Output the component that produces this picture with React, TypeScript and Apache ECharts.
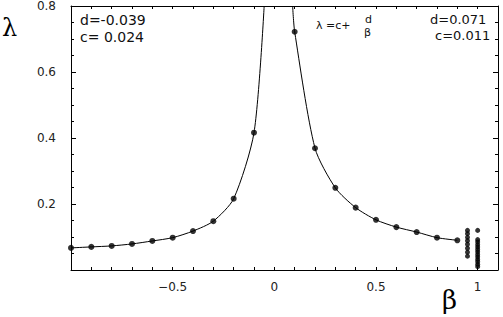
import React, { useEffect, useRef } from "react";
import * as echarts from "echarts";

const betaLeft = [-1, -0.9, -0.8, -0.7, -0.6, -0.5, -0.4, -0.3, -0.2, -0.1];
const lambdaLeft = [0.067, 0.070, 0.073, 0.079, 0.088, 0.098, 0.118, 0.148, 0.216, 0.416];
const betaRight = [0.1, 0.2, 0.3, 0.4, 0.5, 0.6, 0.7, 0.8, 0.9];
const lambdaRight = [0.722, 0.369, 0.249, 0.189, 0.152, 0.130, 0.115, 0.098, 0.090];
// Vertical clusters near beta = 0.95 and beta = 1
const betaCluster1 = 0.95;
const lambdaCluster1 = [0.120, 0.110, 0.099, 0.089, 0.078, 0.066, 0.054, 0.042];
const betaCluster2 = 1.0;
const lambdaCluster2 = [0.120, 0.092, 0.085, 0.077, 0.070, 0.062, 0.055, 0.047, 0.040, 0.032, 0.025, 0.017, 0.010];
// Where the fitted curve leaves the top of the frame
const leftExit: [number, number] = [-0.05, 0.8];
const rightExit: [number, number] = [0.09, 0.8];

// Axis ranges / tick labels
const xMin = -1, xMax = 1.1, xStep = 0.1;
const xLabels = [-0.5, 0, 0.5, 1];
const yMin = 0, yMax = 0.8, yStep = 0.2;
const yLabels = [0.2, 0.4, 0.6, 0.8];

// Fit parameters shown in the chart
const leftFit = { d: "-0.039", c: "0.024" };
const rightFit = { d: "0.071", c: "0.011" };

const App: React.FC = () => {
  const ref = useRef<HTMLDivElement>(null);
  useEffect(() => {
    if (!ref.current) return;
    const chart = echarts.init(ref.current, undefined, { renderer: "svg" });
    const pts = (bs: number[], ls: number[]) => bs.map((b, i) => [b, ls[i]]);
    const leftCurve = [...pts(betaLeft, lambdaLeft), leftExit];
    const rightCurve = [rightExit, ...pts(betaRight, lambdaRight)];
    const scatterData = [
      ...pts(betaLeft, lambdaLeft),
      ...pts(betaRight, lambdaRight),
    ];
    const clusterData = [
      ...lambdaCluster1.map((l) => [betaCluster1, l]),
      ...lambdaCluster2.map((l) => [betaCluster2, l]),
    ];
    const labelFont = { fontFamily: "DejaVu Sans", fontSize: 12, color: "#222" };
    const isLabelX = (v: number) => xLabels.some((l) => Math.abs(l - v) < 1e-6);
    const isLabelY = (v: number) => yLabels.some((l) => Math.abs(l - v) < 1e-6);
    const axisLine = { show: true, onZero: false, lineStyle: { color: "#000", width: 1 } };
    const xBase = {
      type: "value" as const,
      min: xMin,
      max: xMax,
      interval: xStep,
      axisLine,
      splitLine: { show: false },
      axisTick: { show: true, inside: true, length: 3, lineStyle: { color: "#000" } },
    };
    const yBase = {
      type: "value" as const,
      min: yMin,
      max: yMax,
      interval: yStep,
      axisLine,
      splitLine: { show: false },
      axisTick: { show: true, inside: true, length: 5, lineStyle: { color: "#000" } },
      minorTick: { show: true, splitNumber: 4, length: 3, lineStyle: { color: "#000" } },
      minorSplitLine: { show: false },
    };
    const txt = (x: number, y: number, text: string, font: string) => ({
      type: "text",
      x,
      y,
      style: { text, font, fill: "#111", verticalAlign: "middle" },
    });
    chart.setOption({
      animation: false,
      grid: { left: 71, right: 5, top: 4, bottom: 47 },
      xAxis: [
        {
          ...xBase,
          position: "bottom",
          axisLabel: {
            ...labelFont,
            margin: 11,
            formatter: (v: number) => (isLabelX(v) ? (v < 0 ? "\u2212" + String(Math.abs(v)) : String(v)) : ""),
          },
        },
        { ...xBase, position: "top", axisLabel: { show: false } },
      ],
      yAxis: [
        {
          ...yBase,
          position: "left",
          axisLabel: {
            ...labelFont,
            margin: 15,
            formatter: (v: number) => (isLabelY(v) ? v.toFixed(1) : ""),
          },
        },
        { ...yBase, position: "right", axisLabel: { show: false } },
      ],
      series: [
        {
          type: "line",
          data: leftCurve,
          symbol: "none",
          smooth: 0.25,
          lineStyle: { color: "#000", width: 1 },
          silent: true,
        },
        {
          type: "line",
          data: rightCurve,
          symbol: "none",
          smooth: 0.25,
          lineStyle: { color: "#000", width: 1 },
          silent: true,
        },
        {
          type: "scatter",
          data: scatterData,
          symbol: "circle",
          symbolSize: 6,
          itemStyle: { color: "#000" },
        },
        {
          type: "scatter",
          data: clusterData,
          symbol: "circle",
          symbolSize: 5,
          itemStyle: { color: "#000" },
        },
      ],
      graphic: [
        txt(80, 20, "d=" + leftFit.d, "14px 'DejaVu Sans'"),
        txt(80, 37, "c= " + leftFit.c, "14px 'DejaVu Sans'"),
        txt(430, 19, "d=" + rightFit.d, "13px 'DejaVu Sans'"),
        txt(435, 35, "c=" + rightFit.c, "13px 'DejaVu Sans'"),
        txt(316, 25, "\u03bb =c+", "11px 'DejaVu Sans'"),
        txt(365, 19, "d", "11px 'DejaVu Sans'"),
        txt(364, 32, "\u03b2", "11px 'DejaVu Sans'"),
        { type: "text", x: 2, y: 28, style: { text: "\u03bb", font: "24px 'DejaVu Serif'", fill: "#000", verticalAlign: "middle" } },
        { type: "text", x: 442, y: 300, style: { text: "\u03b2", font: "26px 'DejaVu Serif'", fill: "#000", verticalAlign: "middle" } },
      ],
    });
    return () => chart.dispose();
  }, []);
  return (
    <div
      ref={ref}
      style={{ position: "absolute", left: 0, top: 0, width: 503, height: 317, background: "#fff" }}
    />
  );
};

export default App;
